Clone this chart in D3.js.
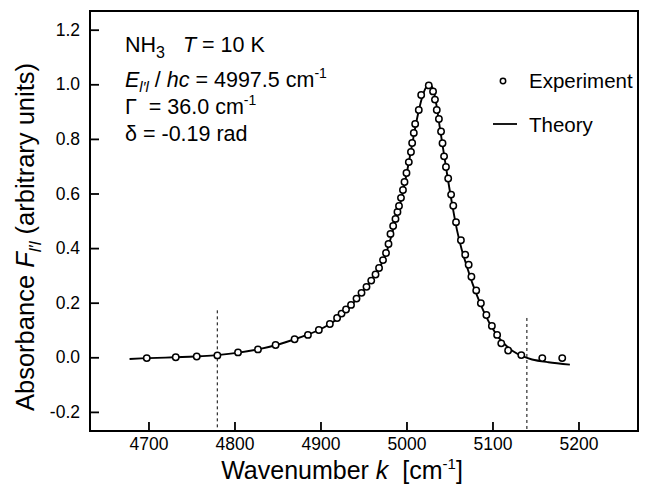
<!DOCTYPE html>
<html><head><meta charset="utf-8">
<script src="https://cdn.jsdelivr.net/npm/d3@7"></script>
<style>
body{margin:0;background:#fff;}
svg text{font-family:"Liberation Sans",Arial,Helvetica,sans-serif;fill:#000;}
</style></head><body>
<svg id="c" width="650" height="495"></svg>
<script>
// Experimental points (wavenumber, absorbance)
const expK = [4698,4731.7,4756.1,4780.1,4804.1,4827.3,4847.8,4869.9,4885.4,4898.1,4910.9,4919.3,4924.5,4929.7,4935.5,4941.9,4947.7,4953.5,4959,4964,4968.1,4972.7,4976.2,4979.1,4981.4,4984.5,4987.2,4989.5,4991.3,4993.6,4995.9,4997.7,5000,5002.7,5005.2,5006.6,5008.5,5010.1,5014.3,5017.1,5025.9,5030.9,5033.1,5035.2,5037.7,5040.2,5041.9,5043.7,5045.9,5048.5,5051.9,5054.4,5057.6,5063.3,5068.3,5072.3,5075.5,5081.1,5086.5,5092.9,5099.3,5105.4,5110.2,5118.2,5133.5,5157.9,5181.1];
const expA = [-0.003,0,0.003,0.007,0.018,0.029,0.045,0.066,0.082,0.1,0.122,0.144,0.16,0.175,0.192,0.215,0.236,0.258,0.281,0.303,0.327,0.356,0.382,0.415,0.452,0.481,0.507,0.532,0.554,0.584,0.613,0.642,0.675,0.715,0.752,0.785,0.822,0.855,0.906,0.961,0.996,0.974,0.944,0.906,0.873,0.827,0.784,0.736,0.697,0.655,0.596,0.555,0.495,0.429,0.376,0.339,0.295,0.245,0.198,0.155,0.115,0.082,0.051,0.025,0.008,-0.003,-0.003];
// Theory curve
const theoryK = [4678,4700,4730,4760,4780,4805,4830,4850,4870,4885,4898,4911,4920,4930,4940,4950,4960,4968,4975,4982,4988,4994,5000,5006,5012,5018,5023,5027,5030.5,5034.2,5038.6,5043.3,5048,5053.4,5058.8,5064.2,5070.5,5077,5084.5,5092.2,5099.7,5107.2,5114.8,5124,5134.7,5146,5165,5190];
const theoryA = [-0.006,-0.003,0,0.004,0.008,0.017,0.031,0.046,0.066,0.083,0.1,0.122,0.142,0.172,0.206,0.244,0.285,0.325,0.37,0.44,0.51,0.58,0.67,0.77,0.87,0.95,0.99,1.0,0.985,0.935,0.845,0.75,0.655,0.555,0.465,0.395,0.33,0.268,0.207,0.152,0.108,0.072,0.046,0.022,0.004,-0.008,-0.018,-0.027];
// Dashed markers
const markerK = [4780, 5140];
const markerTop = [0.172, 0.144];
const xTicks = [4700,4800,4900,5000,5100,5200];
const yTicks = [-0.2,0,0.2,0.4,0.6,0.8,1.0,1.2];

const svg = d3.select('#c');
const L=90, R=638, T=11, B=431;
const x = d3.scaleLinear().domain([4632, 5269.2]).range([L, R]);
const y = d3.scaleLinear().domain([-0.27, 1.2685]).range([B, T]);

// dashed markers
svg.selectAll('line.mk').data(markerK).join('line').attr('class','mk')
  .attr('x1',d=>x(d)).attr('x2',d=>x(d))
  .attr('y1',(d,i)=>y(markerTop[i])).attr('y2',B)
  .attr('stroke','#000').attr('stroke-width',1).attr('stroke-dasharray','3,3');

// theory line
const pts = theoryK.map((k,i)=>[k,theoryA[i]]);
svg.append('path').datum(pts)
  .attr('d', d3.line().x(d=>x(d[0])).y(d=>y(d[1])).curve(d3.curveCatmullRom))
  .attr('fill','none').attr('stroke','#000').attr('stroke-width',1.9);

// experiment
svg.selectAll('circle.e').data(expK.map((k,i)=>[k,expA[i]])).join('circle').attr('class','e')
  .attr('cx',d=>x(d[0])).attr('cy',d=>y(d[1])).attr('r',3.2)
  .attr('fill','#fff').attr('stroke','#000').attr('stroke-width',1.5);

// axes
const ax = svg.append('g').attr('transform',`translate(0,${B})`)
  .call(d3.axisBottom(x).tickValues(xTicks).tickSize(-9).tickPadding(7).tickFormat(d3.format('d')));
const ay = svg.append('g').attr('transform',`translate(${L},0)`)
  .call(d3.axisLeft(y).tickValues(yTicks).tickSize(-9).tickPadding(10).tickFormat(d3.format('.1f')));
[ax,ay].forEach(g=>{
  g.select('.domain').remove();
  g.selectAll('.tick line').attr('stroke','#000').attr('stroke-width',1.8);
  g.selectAll('.tick text').style('font-family','"Liberation Sans",Arial,sans-serif').style('font-size','17.5px').attr('fill','#000');
});
ay.selectAll('.tick text').text(d=>d3.format('.1f')(d).replace('−','-'));

// frame
svg.append('rect').attr('x',L).attr('y',T).attr('width',R-L).attr('height',B-T)
  .attr('fill','none').attr('stroke','#000').attr('stroke-width',2);

// axis titles
const xt = svg.append('text').attr('x',342).attr('y',479).attr('text-anchor','middle').style('font-size','25px');
xt.append('tspan').text('Wavenumber ');
xt.append('tspan').text('k').style('font-style','italic');
xt.append('tspan').text('\u00a0 [cm');
xt.append('tspan').text('-1').attr('dy',-10).style('font-size','15px');
xt.append('tspan').text(']').attr('dy',10);

const yt = svg.append('text').attr('transform','translate(34,237) rotate(-90)').attr('text-anchor','middle').style('font-size','25.5px');
yt.append('tspan').text('Absorbance ');
yt.append('tspan').text('F').style('font-style','italic');
yt.append('tspan').text("l\u2032l").style('font-style','italic').style('font-size','17px').attr('dy',7);
yt.append('tspan').text(' (arbitrary units)').attr('dy',-7);

// annotations
const fs='21.5px';
const a1 = svg.append('text').attr('x',125).attr('y',52).style('font-size',fs);
a1.append('tspan').text('NH');
a1.append('tspan').text('3').attr('dy',6).style('font-size','16px');
a1.append('tspan').text('\u00a0\u00a0\u00a0').attr('dy',-6);
a1.append('tspan').text('T').style('font-style','italic');
a1.append('tspan').text(' = 10 K');

const a2 = svg.append('text').attr('x',125).attr('y',87).style('font-size',fs);
a2.append('tspan').text('E').style('font-style','italic');
a2.append('tspan').text("l\u2032l").style('font-style','italic').style('font-size','15px').attr('dy',5);
a2.append('tspan').text(' / ').attr('dy',-5);
a2.append('tspan').text('hc').style('font-style','italic');
a2.append('tspan').text(' = 4997.5 cm');
a2.append('tspan').text('-1').attr('dy',-9).style('font-size','14px');

const a3 = svg.append('text').attr('x',125).attr('y',114).style('font-size',fs);
a3.append('tspan').text('\u0393\u00a0 = 36.0 cm');
a3.append('tspan').text('-1').attr('dy',-9).style('font-size','14px');

svg.append('text').attr('x',125).attr('y',141).style('font-size',fs).text('\u03b4 = -0.19 rad');

// legend
svg.append('circle').attr('cx',503).attr('cy',81).attr('r',2.7).attr('fill','#fff').attr('stroke','#000').attr('stroke-width',1.5);
svg.append('text').attr('x',529).attr('y',88).style('font-size','20.5px').text('Experiment');
svg.append('line').attr('x1',493).attr('x2',517).attr('y1',124).attr('y2',124).attr('stroke','#000').attr('stroke-width',1.8);
svg.append('text').attr('x',529).attr('y',132).style('font-size','20.5px').text('Theory');
</script>
</body></html>
